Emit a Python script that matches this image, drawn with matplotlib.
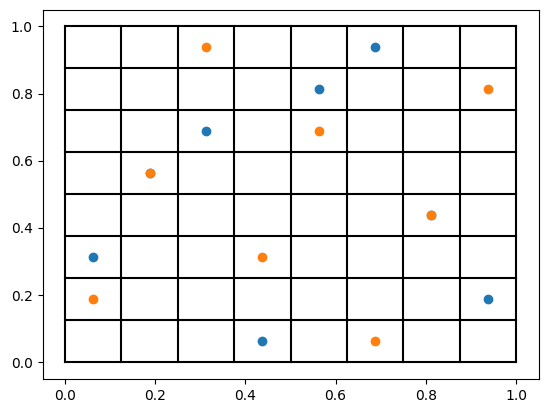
import matplotlib
matplotlib.use("Agg")
import matplotlib.pyplot as plt
import numpy as np

n_cells = 8
grid_edges = [i / 8 for i in range(9)]

blue_x = [0.0625, 0.1875, 0.3125, 0.4375, 0.5625, 0.6875, 0.8125, 0.9375]
blue_y = [0.3125, 0.5625, 0.6875, 0.0625, 0.8125, 0.9375, 0.4375, 0.1875]

orange_x = [0.0625, 0.1875, 0.3125, 0.4375, 0.5625, 0.6875, 0.8125, 0.9375]
orange_y = [0.1875, 0.5625, 0.9375, 0.3125, 0.6875, 0.0625, 0.4375, 0.8125]

W, H = 547, 413
fig = plt.figure(figsize=(W / 100, H / 100), dpi=100)
ax = fig.add_axes([42.5 / W, (H - 379.2) / H, 496 / W, 369.6 / H])

for e in grid_edges:
    ax.plot([e, e], [0, 1], color="black", linewidth=1.5)
    ax.plot([0, 1], [e, e], color="black", linewidth=1.5)

ax.scatter(blue_x, blue_y, color="#1f77b4")
ax.scatter(orange_x, orange_y, color="#ff7f0e")

fig.savefig("out.png", dpi=100)
